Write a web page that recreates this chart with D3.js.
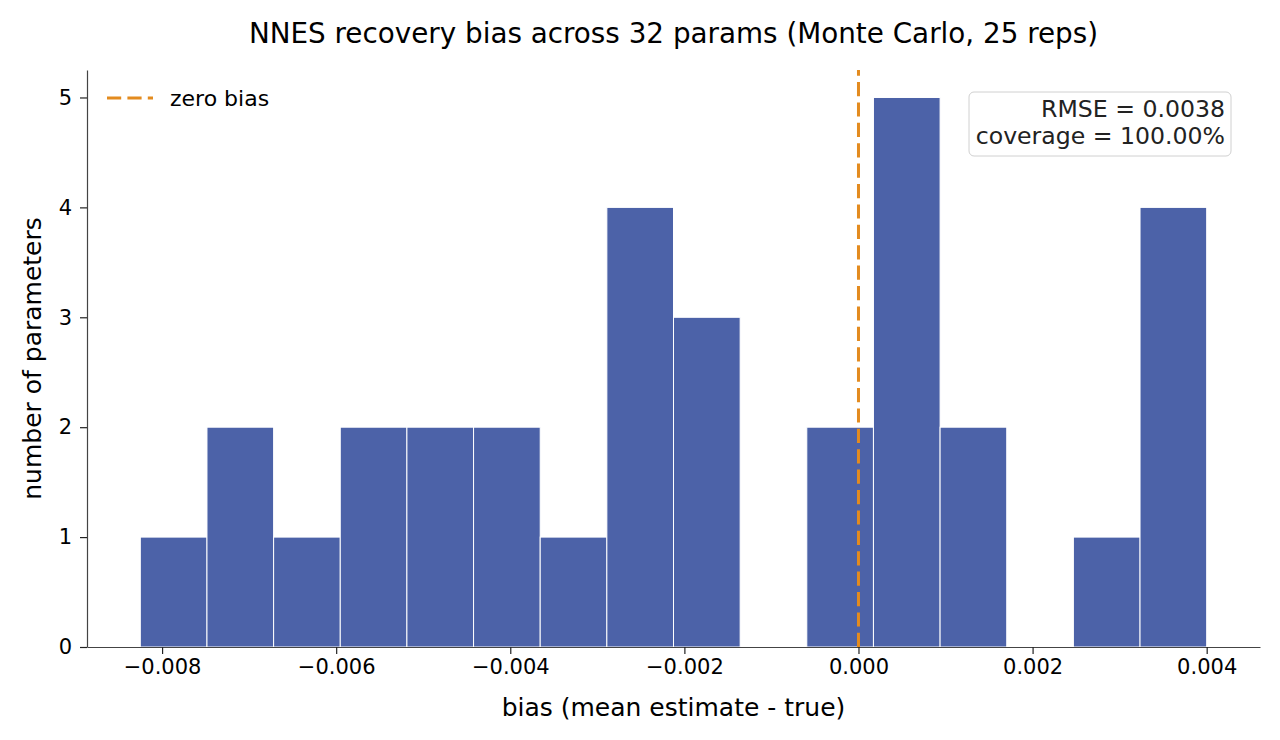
<!DOCTYPE html>
<html>
<head>
<meta charset="utf-8">
<script src="https://cdn.jsdelivr.net/npm/d3@7"></script>
<style>
  body { margin: 0; background: #fff; }
  svg { font-family: "DejaVu Sans", sans-serif; }
</style>
</head>
<body>
<div id="chart"></div>
<script>
// histogram bins (edges) and counts
const binStart = -0.00825;
const binEnd = 0.0040;
const binCounts = [1, 2, 1, 2, 2, 2, 1, 4, 3, 0, 2, 5, 2, 0, 1, 4];
const xTicks = [-0.008, -0.006, -0.004, -0.002, 0.000, 0.002, 0.004];
const yTicks = [0, 1, 2, 3, 4, 5];
const statLines = ["RMSE = 0.0038", "coverage = 100.00%"];

function createHist() {
    var width = 1280, height = 740;
    var margin = {top: 70, right: 20, bottom: 93, left: 87};

    var nBins = binCounts.length;
    var binW = (binEnd - binStart) / nBins;
    var bins = binCounts.map((c, i) => ({x0: binStart + i * binW, x1: binStart + (i + 1) * binW, count: c}));

    var pad = (binEnd - binStart) * 0.05;
    var x = d3.scaleLinear()
        .domain([binStart - pad, binEnd + pad])
        .range([margin.left, width - margin.right]);

    var y = d3.scaleLinear()
        .domain([0, 5.25])
        .range([height - margin.bottom, margin.top]);

    var svg = d3.select("#chart").append("svg")
        .attr("width", width)
        .attr("height", height)
        .attr("viewBox", [0, 0, width, height]);

    svg.append("g")
        .selectAll("rect")
        .data(bins.filter(d => d.count > 0))
        .join("rect")
            .attr("x", d => x(d.x0))
            .attr("y", d => y(d.count))
            .attr("width", d => x(d.x1) - x(d.x0))
            .attr("height", d => y(0) - y(d.count))
            .attr("fill", "#4c62a8")
            .attr("stroke", "#ffffff")
            .attr("stroke-width", 1);

    // zero line
    svg.append("line")
        .attr("x1", x(0)).attr("x2", x(0))
        .attr("y1", y(0)).attr("y2", margin.top)
        .attr("stroke", "#e38b1f")
        .attr("stroke-width", 3)
        .attr("stroke-dasharray", "14.2,6.2");

    var fmt = d => d === 0 ? "0.000" : d3.format(".3f")(d).replace("-", "\u2212");

    var xAxis = svg.append("g")
        .attr("transform", `translate(0,${height - margin.bottom})`)
        .call(d3.axisBottom(x).tickValues(xTicks).tickFormat(fmt).tickSize(7).tickPadding(5).tickSizeOuter(0));

    var yAxis = svg.append("g")
        .attr("transform", `translate(${margin.left},0)`)
        .call(d3.axisLeft(y).tickValues(yTicks).tickFormat(d3.format("d")).tickSize(7).tickPadding(8).tickSizeOuter(0));

    [xAxis, yAxis].forEach(g => {
        g.selectAll("text").attr("font-size", 21).attr("fill", "#000").attr("font-family", "DejaVu Sans");
        g.selectAll(".tick line").attr("stroke", "#222").attr("stroke-width", 1.2);
        g.select(".domain").attr("stroke", "#444").attr("stroke-width", 1.2);
    });

    // titles
    svg.append("text")
        .attr("x", (margin.left + width - margin.right) / 2)
        .attr("y", 43)
        .attr("text-anchor", "middle")
        .attr("font-size", 27.8)
        .text("NNES recovery bias across 32 params (Monte Carlo, 25 reps)");

    svg.append("text")
        .attr("x", (margin.left + width - margin.right) / 2)
        .attr("y", 716)
        .attr("text-anchor", "middle")
        .attr("font-size", 25)
        .text("bias (mean estimate - true)");

    svg.append("text")
        .attr("transform", `translate(41,${(margin.top + height - margin.bottom) / 2}) rotate(-90)`)
        .attr("text-anchor", "middle")
        .attr("font-size", 25)
        .text("number of parameters");

    // legend
    var lg = svg.append("g").attr("transform", "translate(107,98)");
    lg.append("line")
        .attr("x1", 0).attr("x2", 46)
        .attr("stroke", "#e38b1f")
        .attr("stroke-width", 3)
        .attr("stroke-dasharray", "14.2,6.2");
    lg.append("text")
        .attr("x", 63).attr("y", 8)
        .attr("font-size", 22)
        .text("zero bias");

    // stats box
    var bx = svg.append("g");
    bx.append("rect")
        .attr("x", 969).attr("y", 92)
        .attr("width", 262).attr("height", 64)
        .attr("rx", 5)
        .attr("fill", "#fff")
        .attr("fill-opacity", 0.8)
        .attr("stroke", "#d0d0d0");
    bx.selectAll("text")
        .data(statLines)
        .join("text")
            .attr("x", 1225)
            .attr("y", (d, i) => 117 + i * 27)
            .attr("text-anchor", "end")
            .attr("font-size", 23.6)
            .attr("fill", "#222")
            .text(d => d);
}

createHist();
</script>
</body>
</html>
